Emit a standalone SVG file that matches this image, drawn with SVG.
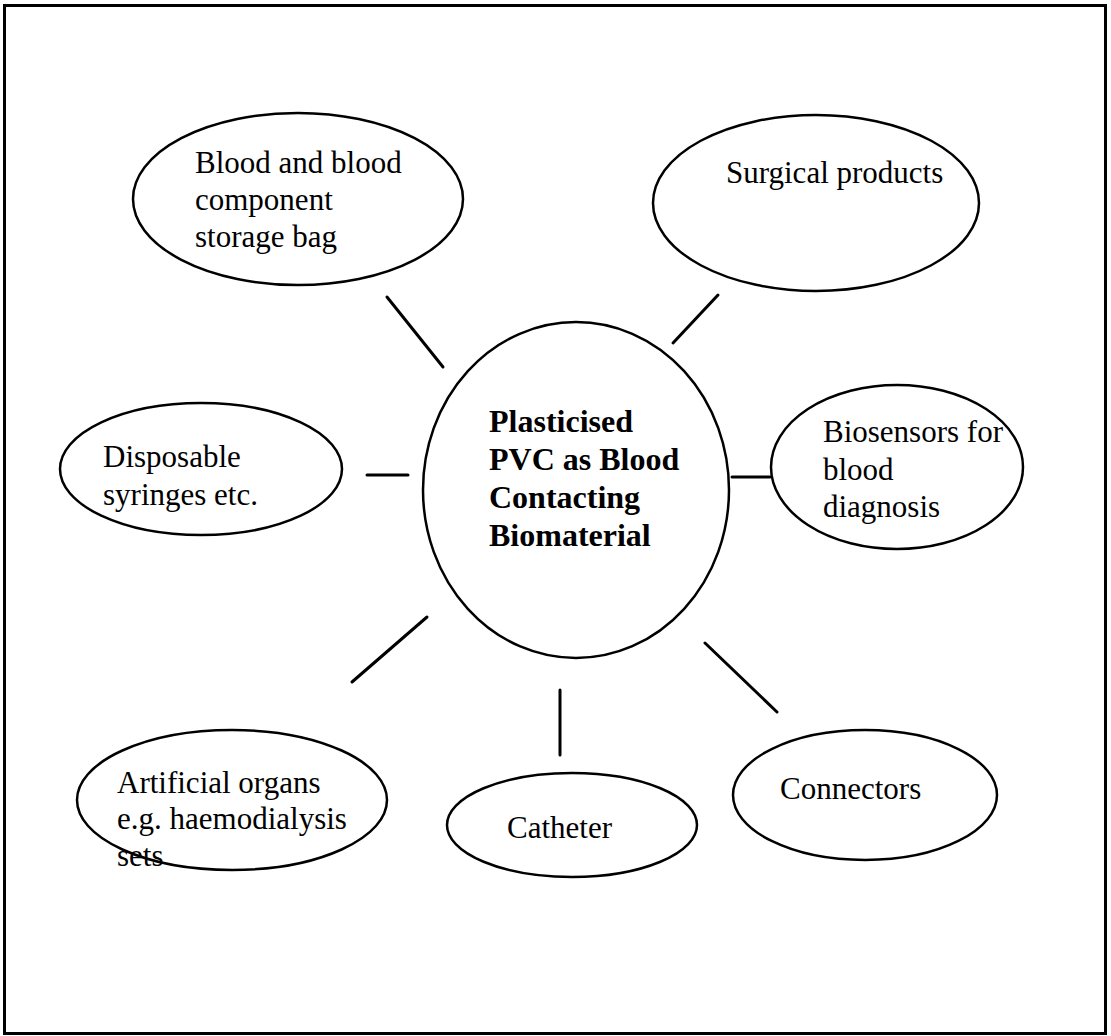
<svg xmlns="http://www.w3.org/2000/svg" width="1111" height="1036" viewBox="0 0 1111 1036">
<style>
.n{fill:#fff;stroke:#000;stroke-width:2.5}
.t{font-family:"Liberation Serif","Times New Roman",serif;font-size:31px;fill:#000}
.b{font-weight:bold;font-size:32px}
.c line{stroke:#000;stroke-width:3;stroke-linecap:round}
</style>
<rect x="0" y="0" width="1111" height="1036" fill="#fff"/>
<rect x="4.5" y="5.5" width="1101" height="1028" fill="none" stroke="#000" stroke-width="3"/>
<g id="connectors" class="c">
<line x1="387" y1="297" x2="443" y2="367"/>
<line x1="718" y1="295" x2="673" y2="343"/>
<line x1="367" y1="475" x2="408" y2="475"/>
<line x1="732" y1="477" x2="770" y2="477"/>
<line x1="352" y1="682" x2="427" y2="617"/>
<line x1="560" y1="690" x2="560" y2="755"/>
<line x1="705" y1="643" x2="777" y2="712"/>
</g>
<g id="center">
<ellipse class="n" cx="576" cy="490" rx="153" ry="168"/>
<text class="t b"><tspan x="489" y="432">Plasticised</tspan><tspan x="489" y="470">PVC as Blood</tspan><tspan x="489" y="508">Contacting</tspan><tspan x="489" y="546">Biomaterial</tspan></text>
</g>
<g id="blood-bag">
<ellipse class="n" cx="298" cy="199" rx="165" ry="86"/>
<text class="t"><tspan x="195" y="173">Blood and blood</tspan><tspan x="195" y="210">component</tspan><tspan x="195" y="247">storage bag</tspan></text>
</g>
<g id="surgical">
<ellipse class="n" cx="816" cy="203" rx="163" ry="88"/>
<text class="t" x="726" y="183">Surgical products</text>
</g>
<g id="disposable">
<ellipse class="n" cx="201" cy="469" rx="141" ry="66"/>
<text class="t"><tspan x="103" y="467">Disposable</tspan><tspan x="103" y="505">syringes etc.</tspan></text>
</g>
<g id="biosensors">
<ellipse class="n" cx="897" cy="467" rx="126" ry="82"/>
<text class="t"><tspan x="823" y="442">Biosensors for</tspan><tspan x="823" y="480">blood</tspan><tspan x="823" y="517">diagnosis</tspan></text>
</g>
<g id="artificial">
<ellipse class="n" cx="232" cy="800" rx="155" ry="70"/>
<text class="t"><tspan x="117" y="793">Artificial organs</tspan><tspan x="117" y="829">e.g. haemodialysis</tspan><tspan x="117" y="866">sets</tspan></text>
</g>
<g id="catheter">
<ellipse class="n" cx="572" cy="825" rx="125" ry="52"/>
<text class="t" x="507" y="838">Catheter</text>
</g>
<g id="connectors-node">
<ellipse class="n" cx="865" cy="795" rx="132" ry="65"/>
<text class="t" x="780" y="799">Connectors</text>
</g>
</svg>
